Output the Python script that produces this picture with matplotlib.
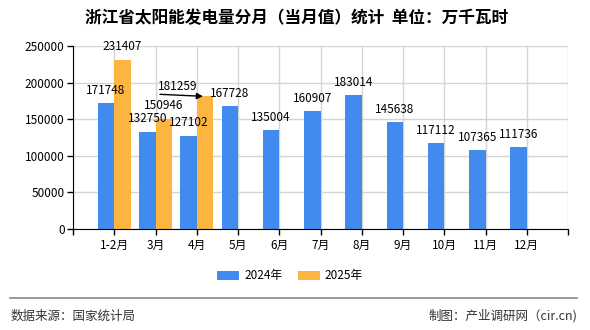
import matplotlib.pyplot as plt
from matplotlib.lines import Line2D
import numpy as np

plt.rcParams['font.family'] = ['Noto Sans CJK SC', 'DejaVu Sans']

months = ['1-2月', '3月', '4月', '5月', '6月', '7月', '8月', '9月', '10月', '11月', '12月']
v2024 = [171748, 132750, 127102, 167728, 135004, 160907, 183014, 145638, 117112, 107365, 111736]
v2025 = [231407, 150946, 181259]
series_names = ['2024年', '2025年']

blue = '#418bef'
orange = '#fbb540'

fig = plt.figure(figsize=(5.9, 3.3), dpi=100)
ax = fig.add_axes([73/590, 1 - 229/330, 495/590, 183/330])

x = np.arange(len(months))
w = 0.4
b1 = ax.bar(x - w/2, v2024, w, color=blue, label=series_names[0], zorder=2)
x2 = np.arange(len(v2025))
b2 = ax.bar(x2 + w/2, v2025, w, color=orange, label=series_names[1], zorder=2)

ax.set_xlim(-1, 11)
ax.set_ylim(0, 250000)
ax.set_yticks(np.arange(0, 250001, 50000))
ax.set_xticks(np.arange(-1, 12))
ax.set_xticklabels([''] + months + [''], fontsize=8.5)
ax.tick_params(axis='y', labelsize=8.5, length=4, width=1, pad=2)
ax.tick_params(axis='x', length=4, width=1, pad=3)
ax.grid(True, color='#d4d4d4', linewidth=1, zorder=0)
ax.set_axisbelow(True)
for s in ['top', 'right']:
    ax.spines[s].set_visible(False)

# value labels
for xi, v in zip(x - w/2, v2024):
    ax.annotate(str(v), (xi, v), xytext=(0, 13), textcoords='offset pixels',
                ha='center', va='center', fontsize=8.5)
for i, (xi, v) in enumerate(zip(x2 + w/2, v2025)):
    if i == 2:
        # this label was pushed aside, with a leader arrow to its bar
        ax.annotate(str(v), (xi, v), xytext=(-27, 10), textcoords='offset pixels',
                    ha='center', va='center', fontsize=8.5)
        ax.annotate('', (xi - 0.05, v), xytext=(-43, 2), textcoords='offset pixels',
                    arrowprops=dict(arrowstyle='-|>', color='black', lw=1,
                                    shrinkA=0, shrinkB=0, mutation_scale=9),
                    zorder=3)
    else:
        ax.annotate(str(v), (xi, v), xytext=(0, 13), textcoords='offset pixels',
                    ha='center', va='center', fontsize=8.5)

fig.text(297/590, 1 - 18/330, '浙江省太阳能发电量分月（当月值）统计  单位：万千瓦时',
         ha='center', va='center', fontsize=12, fontweight='bold')

fig.legend(handles=[b1, b2], loc='center', bbox_to_anchor=(290/590, 1 - 276/330),
           ncol=2, frameon=False, fontsize=8.5, handlelength=1.9, handleheight=0.8,
           columnspacing=1.3, handletextpad=0.4)

fig.add_artist(Line2D([10/590, 577/590], [1 - 298/330, 1 - 298/330],
                      color='#888888', linewidth=1.2))
fig.text(11/590, 1 - 316/330, '数据来源：国家统计局', ha='left', va='center',
         fontsize=9, color='#333333')
fig.text(577/590, 1 - 316/330, '制图：产业调研网（cir.cn)', ha='right', va='center',
         fontsize=9, color='#333333')

fig.savefig('out.png', dpi=100)
